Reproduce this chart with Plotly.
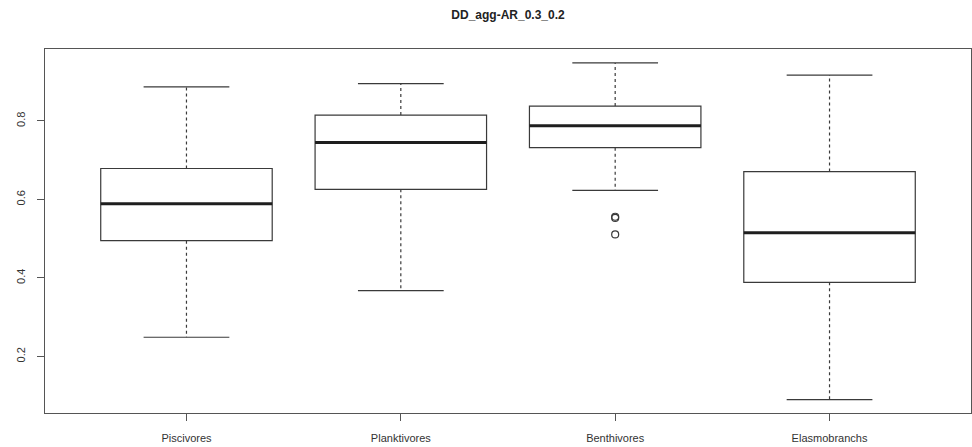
import plotly.graph_objects as go

categories = ["Piscivores", "Planktivores", "Benthivores", "Elasmobranchs"]
lower_whisker = [0.249, 0.368, 0.623, 0.090]
q1 = [0.495, 0.626, 0.732, 0.389]
median = [0.589, 0.745, 0.788, 0.515]
q3 = [0.679, 0.815, 0.838, 0.671]
upper_whisker = [0.887, 0.895, 0.948, 0.917]
outlier_cat = ["Benthivores", "Benthivores", "Benthivores"]
outlier_val = [0.553, 0.556, 0.511]

xpos = list(range(1, len(categories) + 1))
BOXW = 0.8
STAPLE = 0.2
LINE = "#3a3a3a"

fig = go.Figure()

# box bodies
for i, c in enumerate(categories):
    fig.add_trace(go.Box(
        x=[xpos[i]], q1=[q1[i]], median=[median[i]], q3=[q3[i]],
        lowerfence=[q1[i]], upperfence=[q3[i]],
        width=BOXW, whiskerwidth=0, fillcolor="white",
        line=dict(color=LINE, width=1.2), showlegend=False, name=c,
        boxpoints=False,
    ))

# medians, whiskers, staples
for i, c in enumerate(categories):
    x = xpos[i]
    fig.add_trace(go.Scatter(x=[x - BOXW / 2, x + BOXW / 2], y=[median[i], median[i]],
                             mode="lines", line=dict(color="#1e1e1e", width=3), showlegend=False))
    for a, b in [(q3[i], upper_whisker[i]), (q1[i], lower_whisker[i])]:
        fig.add_trace(go.Scatter(x=[x, x], y=[a, b], mode="lines",
                                 line=dict(color=LINE, width=1.2, dash="3px,3px"), showlegend=False))
    for v in [upper_whisker[i], lower_whisker[i]]:
        fig.add_trace(go.Scatter(x=[x - STAPLE, x + STAPLE], y=[v, v], mode="lines",
                                 line=dict(color=LINE, width=1.2), showlegend=False))

# outliers
fig.add_trace(go.Scatter(
    x=[xpos[categories.index(c)] for c in outlier_cat], y=outlier_val, mode="markers",
    marker=dict(symbol="circle-open", size=7, color=LINE, line=dict(width=1.2)),
    showlegend=False))

fig.update_layout(
    width=972, height=447,
    margin=dict(l=45, r=1, t=49, b=34, autoexpand=False),
    paper_bgcolor="white", plot_bgcolor="white",
    title=dict(text="<b>DD_agg-AR_0.3_0.2</b>", x=(45 + 971) / 2 / 972, xanchor="center",
               y=1 - 15 / 447, yanchor="middle", yref="container",
               font=dict(family="Liberation Sans, Arial", size=12, color="#222")),
    font=dict(family="Liberation Sans, Arial", size=11, color="#333"),
)
fig.update_xaxes(
    range=[0.34, 4.66], tickmode="array", tickvals=xpos, ticktext=categories,
    showgrid=False, zeroline=False, showline=True, mirror=True, linecolor="#555", linewidth=1.2,
    ticks="outside", ticklen=7, tickcolor="#555", tickwidth=1.2,
    ticklabelstandoff=8, automargin=False,
)
fig.update_yaxes(
    range=[0.056, 0.9834], tickmode="array", tickvals=[0.2, 0.4, 0.6, 0.8],
    ticktext=["0.2", "0.4", "0.6", "0.8"], tickangle=-90,
    showgrid=False, zeroline=False, showline=True, mirror=True, linecolor="#555", linewidth=1.2,
    ticks="outside", ticklen=7, tickcolor="#555", tickwidth=1.2,
    ticklabelstandoff=8, automargin=False,
)

fig.write_html("out.html", config={"displayModeBar": False},
               post_script="document.body.style.margin='0';")
